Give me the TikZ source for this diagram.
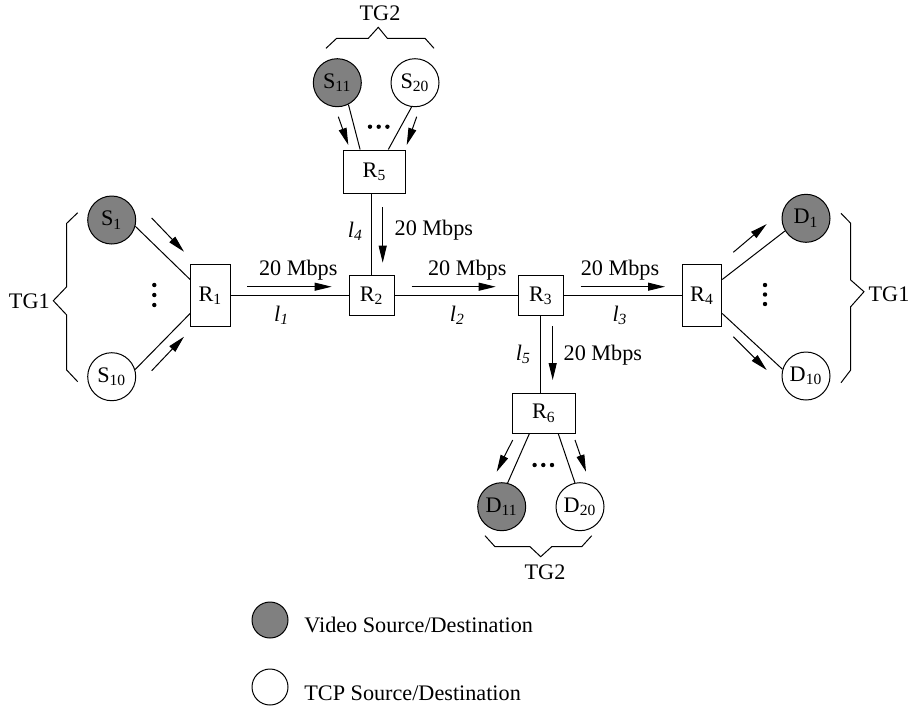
\documentclass[tikz,border=0pt]{standalone}
\usepackage{fontspec}
\setmainfont{Liberation Serif}
\usetikzlibrary{arrows.meta}
\definecolor{vidgray}{RGB}{128,128,128}
\tikzset{
  every node/.style={font=\fontsize{11.1}{13}\selectfont},
  host/.style={circle,draw,line width=0.5pt,minimum size=24pt,inner sep=0pt},
  video/.style={host,fill=vidgray},
  tcp/.style={host,fill=white},
  router/.style={rectangle,draw,line width=0.5pt,inner sep=0pt},
  link/.style={line width=0.5pt},
  arr/.style={line width=0.5pt,-{Triangle[length=8.5pt,width=4pt]}},
  brace/.style={line width=0.5pt},
  dot/.style={fill=black,draw=none}
}
\begin{document}
\begin{tikzpicture}[x=0.5pt,y=-0.5pt]
\useasboundingbox (0,0) rectangle (914,708);
% hosts
\node[video] (S1) at (111.7,220) {S\textsubscript{1}};
\node[tcp] (S10) at (111.7,376.7) {S\textsubscript{10}};
\node[video] (S11) at (337.3,82.7) {S\textsubscript{11}};
\node[tcp] (S20) at (415,82.7) {S\textsubscript{20}};
\node[video] (D1) at (806,218.3) {D\textsubscript{1}};
\node[tcp] (D10) at (806,376) {D\textsubscript{10}};
\node[video] (D11) at (501.7,506.7) {D\textsubscript{11}};
\node[tcp] (D20) at (580,506.7) {D\textsubscript{20}};
% routers
\node[router,minimum width=19.7pt,minimum height=31.3pt] (R1) at (210.3,295.5) {R\textsubscript{1}};
\node[router,minimum width=22.7pt,minimum height=19.7pt] (R2) at (371.7,295.5) {R\textsubscript{2}};
\node[router,minimum width=22.5pt,minimum height=19.7pt] (R3) at (540.8,295.5) {R\textsubscript{3}};
\node[router,minimum width=19.7pt,minimum height=31.3pt] (R4) at (702,295.5) {R\textsubscript{4}};
\node[router,minimum width=31.2pt,minimum height=21.7pt] (R5) at (374.5,171.7) {R\textsubscript{5}};
\node[router,minimum width=31.2pt,minimum height=20pt] (R6) at (543.8,413.3) {R\textsubscript{6}};
% links
\draw[link] (R1.east) -- (R2.west);
\draw[link] (R2.east) -- (R3.west);
\draw[link] (R3.east) -- (R4.west);
\draw[link] (R5.south -| R2.north) -- (R2.north);
\draw[link] (R3.south) -- (R3.south |- R6.north);
\draw[link] (S1.-15) -- ([yshift=8pt]R1.west);
\draw[link] (S10.17) -- ([yshift=-9pt]R1.west);
\draw[link] (S11.-63) -- ([xshift=-7.2pt]R5.north);
\draw[link] (S20.-98) -- ([xshift=6.9pt]R5.north);
\draw[link] ([yshift=8pt]R4.east) -- (D1.211);
\draw[link] ([yshift=-9pt]R4.east) -- (D10.164);
\draw[link] ([xshift=-7.25pt]R6.south) -- (D11.76);
\draw[link] ([xshift=7.25pt]R6.south) -- (D20.102);
% flow arrows
\draw[arr] (151.7,218) -- (184,251.7);
\draw[arr] (151.7,370.7) -- (184,336.7);
\draw[arr] (338.3,116.7) -- (348.3,145);
\draw[arr] (416.7,116.7) -- (406.7,145);
\draw[arr] (733.3,252.3) -- (766.7,224);
\draw[arr] (733.3,336.7) -- (766.7,370);
\draw[arr] (512.7,440) -- (496.7,471.7);
\draw[arr] (575,440) -- (586,471.7);
\draw[arr] (247.3,286.7) -- (331.7,286.7);
\draw[arr] (411.7,286.7) -- (495.7,286.7);
\draw[arr] (580.7,286.7) -- (665,286.7);
\draw[arr] (382.7,207.3) -- (382.7,262.7);
\draw[arr] (552.7,326) -- (552.7,380);
% rate labels
\node[anchor=base] (b1) at (298.3,275) {20 Mbps};
\node[anchor=base] (b2) at (467.3,275) {20 Mbps};
\node[anchor=base] (b3) at (620,275) {20 Mbps};
\node[anchor=base west,inner sep=0pt] (b4) at (394.3,235.7) {20 Mbps};
\node[anchor=base west,inner sep=0pt] (b5) at (563.3,360) {20 Mbps};
% link names
\node[anchor=base] (l1) at (281.7,321) {\textit{l\textsubscript{1}}};
\node[anchor=base] (l2) at (457.3,321) {\textit{l\textsubscript{2}}};
\node[anchor=base] (l3) at (620,321) {\textit{l\textsubscript{3}}};
\node[anchor=base] (l4) at (355.3,237.3) {\textit{l\textsubscript{4}}};
\node[anchor=base] (l5) at (523.3,360) {\textit{l\textsubscript{5}}};
% dots
\foreach \yy in {285,295,305} \fill[dot] (154.3,\yy) circle (1.1pt);
\foreach \yy in {285,294.5,304} \fill[dot] (765,\yy) circle (1.1pt);
\foreach \xx in {370,378.7,387.4} \fill[dot] (\xx,126.7) circle (1.1pt);
\foreach \xx in {534.6,543.3,552} \fill[dot] (\xx,465) circle (1.1pt);
% braces
\draw[brace] (77.7,212.7) -- (66.7,223.3) -- (66.7,286.7) -- (53.3,300.7) -- (66.7,315) -- (66.7,370) -- (77.7,381.7);
\draw[brace] (841,213.3) -- (850.7,223.3) -- (850.7,280) -- (864,291.7) -- (850.7,306.7) -- (850.7,370) -- (841,382.7);
\draw[brace] (326,48.3) -- (336.7,38.3) -- (368.3,38.3) -- (378.3,27.3) -- (387.3,38.3) -- (425,38.3) -- (434,48.3);
\draw[brace] (485,535.7) -- (495,546.7) -- (530,546.7) -- (540.7,556.7) -- (551.7,546.7) -- (581.7,546.7) -- (591.7,535.7);
\node[anchor=base] (tg1l) at (29.3,308.3) {TG1};
\node[anchor=base] (tg1r) at (889,301.7) {TG1};
\node[anchor=base] (tg2t) at (380,20.7) {TG2};
\node[anchor=base] (tg2b) at (545,579.3) {TG2};
% legend
\node[host,fill=vidgray,minimum size=18pt] (lv) at (270,620) {};
\node[host,fill=white,minimum size=18pt] (lt) at (270,687) {};
\node[anchor=base west,inner sep=0pt] (lvt) at (304,632.3) {Video Source/Destination};
\node[anchor=base west,inner sep=0pt] (ltt) at (304,700) {TCP Source/Destination};
\end{tikzpicture}
\end{document}
